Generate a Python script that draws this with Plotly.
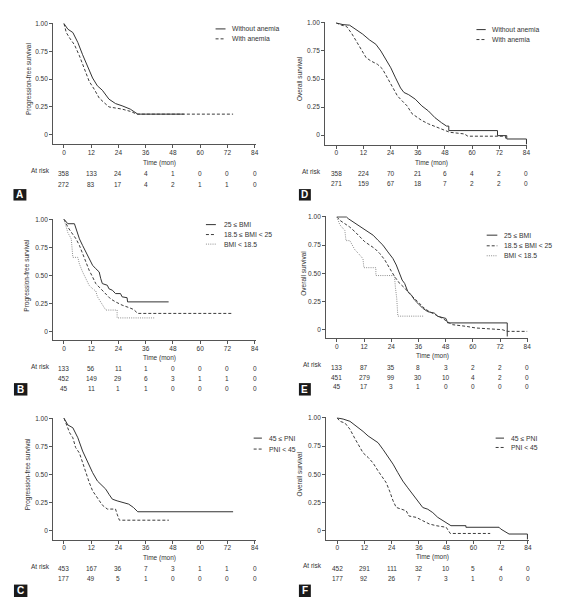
import plotly.graph_objects as go

W, H = 563, 599
OFF = 8  # page body margin in the browser

# ---------------- data ----------------
month_ticks = [0, 12, 24, 36, 48, 60, 72, 84]
y_ticks = [0, 0.25, 0.5, 0.75, 1.0]
y_tick_text = ["0", "0.25", "0.50", "0.75", "1.00"]

# A: PFS by anemia
A_without_t = [0, 1.7, 3.9, 6.1, 8.2, 10.4, 12.6, 14.7, 16.9, 19.8, 22.7, 25.6, 29.2, 32.5, 52.8]
A_without_s = [1.0, 0.95, 0.92, 0.83, 0.72, 0.62, 0.51, 0.44, 0.40, 0.32, 0.28, 0.26, 0.23, 0.185, 0.185]
A_with_t = [0, 1.0, 2.5, 4.6, 6.8, 9.0, 11.1, 13.3, 15.5, 17.6, 19.8, 22.7, 25.6, 29.2, 32.1, 74.5]
A_with_s = [1.0, 0.92, 0.87, 0.81, 0.71, 0.59, 0.48, 0.41, 0.33, 0.29, 0.25, 0.24, 0.23, 0.21, 0.185, 0.185]
A_risk_without = [358, 133, 24, 4, 1, 0, 0, 0]
A_risk_with = [272, 83, 17, 4, 2, 1, 1, 0]

# D: OS by anemia
D_without_t = [0, 3.0, 5.9, 8.8, 11.7, 14.6, 17.5, 19.7, 21.9, 24.1, 26.2, 28.4, 29.9, 32.0, 34.9, 37.8,
               40.7, 43.6, 46.5, 48.7, 49.7, 49.7, 71.2, 71.2, 75.3, 75.3, 84.0, 84.0]
D_without_s = [1.0, 0.985, 0.98, 0.94, 0.90, 0.85, 0.81, 0.75, 0.675, 0.60, 0.51, 0.42, 0.38, 0.36, 0.32, 0.26,
               0.215, 0.155, 0.11, 0.08, 0.08, 0.04, 0.04, -0.005, -0.005, -0.035, -0.035, -0.085]
D_with_t = [0, 2.3, 4.5, 6.7, 8.8, 11.0, 13.2, 15.4, 18.3, 20.4, 22.6, 24.8, 27.0, 29.1, 31.3, 33.5, 35.7,
            37.8, 40.7, 44.3, 48.0, 50.1, 56.6, 58.1, 74.8, 74.8, 75.4]
D_with_s = [1.0, 0.98, 0.97, 0.91, 0.84, 0.76, 0.69, 0.66, 0.63, 0.59, 0.51, 0.42, 0.35, 0.305, 0.26, 0.19, 0.16,
            0.13, 0.10, 0.07, 0.045, 0.025, 0.01, -0.01, -0.01, -0.03, -0.03]
D_risk_without = [358, 224, 70, 21, 6, 4, 2, 0]
D_risk_with = [271, 159, 67, 18, 7, 2, 2, 0]

# B: PFS by BMI
B_high_t = [0, 1.7, 4.6, 5.3, 6.8, 8.2, 9.7, 11.1, 12.6, 14.0, 15.5, 16.2, 16.9, 19.1, 19.8, 21.3, 22.7,
            24.9, 25.6, 27.8, 28.0, 46.1]
B_high_s = [1.0, 0.96, 0.96, 0.914, 0.825, 0.766, 0.707, 0.648, 0.589, 0.559, 0.53, 0.47, 0.426, 0.411, 0.38,
            0.367, 0.337, 0.337, 0.308, 0.30, 0.263, 0.263]
B_mid_t = [0, 1.7, 3.2, 5.3, 6.8, 8.2, 9.7, 11.1, 12.6, 14.0, 16.2, 18.4, 20.5, 22.7, 25.6, 28.5, 30.7, 32.5, 74.5]
B_mid_s = [1.0, 0.93, 0.885, 0.825, 0.766, 0.69, 0.62, 0.544, 0.485, 0.426, 0.38, 0.337, 0.29, 0.263, 0.234,
           0.213, 0.195, 0.16, 0.16]
B_low_t = [0, 1.7, 3.2, 3.9, 6.1, 6.8, 8.2, 9.7, 11.1, 12.6, 14.0, 14.7, 16.2, 16.9, 18.4, 23.4, 23.4, 39.8]
B_low_s = [1.0, 0.88, 0.825, 0.66, 0.66, 0.60, 0.53, 0.46, 0.41, 0.38, 0.36, 0.31, 0.26, 0.23, 0.19, 0.19, 0.12, 0.12]
B_risk_high = [133, 56, 11, 1, 0, 0, 0, 0]
B_risk_mid = [452, 149, 29, 6, 3, 1, 1, 0]
B_risk_low = [45, 11, 1, 1, 0, 0, 0, 0]

# E: OS by BMI
E_high_t = [0, 4.2, 5.0, 7.2, 9.4, 11.6, 13.8, 16.0, 18.1, 20.3, 22.5, 24.7, 26.2, 27.7, 28.8, 29.9, 31.3, 32.8,
            34.2, 35.7, 37.9, 40.1, 43.0, 44.5, 48.1, 48.9, 75.2, 75.2]
E_high_s = [1.0, 1.0, 0.985, 0.956, 0.926, 0.897, 0.868, 0.838, 0.794, 0.75, 0.69, 0.632, 0.574, 0.50, 0.44,
            0.41, 0.338, 0.31, 0.265, 0.235, 0.19, 0.16, 0.147, 0.118, 0.10, 0.06, 0.06, -0.06]
E_mid_t = [0, 1.3, 3.5, 5.7, 7.9, 10.1, 12.3, 14.5, 16.7, 18.9, 21.1, 23.3, 25.5, 27.7, 29.9, 32.0, 34.2, 36.4,
           38.6, 40.8, 43.8, 46.7, 49.6, 51.1, 56.9, 61.3, 73.0, 75.2, 84.0]
E_mid_s = [1.0, 0.97, 0.94, 0.91, 0.87, 0.82, 0.78, 0.75, 0.72, 0.676, 0.62, 0.544, 0.47, 0.41, 0.37, 0.32, 0.28,
           0.235, 0.19, 0.16, 0.13, 0.10, 0.06, 0.044, 0.03, 0.015, 0.0, -0.015, -0.015]
E_low_t = [0, 1.3, 3.5, 4.0, 5.7, 7.9, 9.3, 11.5, 11.9, 17.2, 17.2, 25.4, 25.8, 26.4, 26.9, 38.5]
E_low_s = [1.0, 0.93, 0.88, 0.79, 0.79, 0.71, 0.68, 0.63, 0.55, 0.55, 0.48, 0.48, 0.38, 0.28, 0.12, 0.12]
E_risk_high = [133, 87, 35, 8, 3, 2, 2, 0]
E_risk_mid = [451, 279, 99, 30, 10, 4, 2, 0]
E_risk_low = [45, 17, 3, 1, 0, 0, 0, 0]

# C: PFS by PNI
C_high_t = [0, 1.7, 3.9, 6.1, 8.2, 10.4, 12.6, 14.7, 16.9, 18.4, 19.8, 21.3, 23.4, 25.6, 28.5, 30.6, 32.5, 74.5]
C_high_s = [1.0, 0.94, 0.915, 0.826, 0.708, 0.605, 0.516, 0.442, 0.398, 0.369, 0.324, 0.28, 0.265, 0.25, 0.236,
            0.206, 0.168, 0.168]
C_low_t = [0, 1.3, 2.5, 3.9, 5.1, 6.8, 8.2, 9.7, 11.1, 12.6, 14.0, 15.5, 16.9, 19.1, 22.7, 23.4, 24.4, 46.2]
C_low_s = [1.0, 0.93, 0.87, 0.826, 0.74, 0.69, 0.605, 0.50, 0.43, 0.354, 0.31, 0.265, 0.227, 0.192, 0.192, 0.147,
           0.093, 0.093]
C_risk_high = [453, 167, 36, 7, 3, 1, 1, 0]
C_risk_low = [177, 49, 5, 1, 0, 0, 0, 0]

# F: OS by PNI
F_high_t = [0, 2.6, 5.6, 8.5, 11.4, 13.6, 15.8, 18.0, 20.2, 22.4, 24.6, 26.7, 28.9, 31.1, 33.3, 35.5, 37.7, 39.9,
            42.1, 44.3, 46.5, 48.7, 50.1, 56.7, 56.7, 71.3, 72.0, 75.7, 83.8, 83.8]
F_high_s = [1.0, 0.99, 0.97, 0.926, 0.88, 0.84, 0.81, 0.78, 0.72, 0.66, 0.59, 0.515, 0.44, 0.38, 0.32, 0.265,
            0.205, 0.19, 0.16, 0.118, 0.088, 0.059, 0.044, 0.044, 0.03, 0.03, 0.015, -0.03, -0.03, -0.08]
F_low_t = [0, 1.2, 3.4, 5.6, 7.7, 9.9, 11.4, 13.6, 15.8, 18.0, 20.2, 21.6, 23.1, 24.6, 26.0, 28.2, 30.4, 31.6,
           34.8, 37.7, 40.6, 43.6, 48.0, 49.8, 67.4]
F_low_s = [1.0, 0.97, 0.955, 0.90, 0.82, 0.75, 0.69, 0.65, 0.60, 0.53, 0.47, 0.425, 0.35, 0.265, 0.206, 0.19,
           0.176, 0.13, 0.118, 0.088, 0.059, 0.044, 0.03, -0.025, -0.025]
F_risk_high = [452, 291, 111, 32, 10, 5, 4, 0]
F_risk_low = [177, 92, 26, 7, 3, 1, 0, 0]

anemia_names = ["Without anemia", "With anemia"]
bmi_names = ["25 \u2264 BMI", "18.5 \u2264 BMI < 25", "BMI < 18.5"]
pni_names = ["45 \u2264 PNI", "PNI < 45"]

# ---------------- styles ----------------
FONT = "Liberation Sans Narrow, Arial Narrow, Liberation Sans, Arial, sans-serif"
FS = 6.5
FS_LEG = 6.8
TXT = "#333333"
AX = "#555555"
STY = {
    "solid": dict(color="#333333", width=1.0, dash="solid"),
    "dash": dict(color="#3c3c3c", width=1.0, dash="3px,2px"),
    "dot": dict(color="#8e8e8e", width=1.0, dash="1px,1.2px"),
}

panels = [
    dict(letter="A", ytitle="Progression-free survival",
         series=[(A_without_t, A_without_s, "solid"), (A_with_t, A_with_s, "dash")],
         names=anemia_names, risk=[A_risk_without, A_risk_with],
         geo=dict(yax=53.3, x0=64.3, x84=256.0, y1=20.7, y0=132.3, xax=141.7, ytx=29, timey=160.3,
                  rl=(52, 168.3), rows=[171, 182], leg=(216.7, 226.7, 231, [26, 36]),
                  badge=(13.5, 187, 26.5, 198.5))),
    dict(letter="D", ytitle="Overall survival",
         series=[(D_without_t, D_without_s, "solid"), (D_with_t, D_with_s, "dash")],
         names=anemia_names, risk=[D_risk_without, D_risk_with],
         geo=dict(yax=326.7, x0=338.0, x84=529.3, y1=20.0, y0=132.7, xax=142.3, ytx=300.7, timey=161,
                  rl=(325, 169), rows=[171.7, 181.7], leg=(479, 488.3, 492.3, [26.7, 36.7]),
                  badge=(300.5, 187, 312.5, 198.5))),
    dict(letter="B", ytitle="Progression-free survival",
         series=[(B_high_t, B_high_s, "solid"), (B_mid_t, B_mid_s, "dash"), (B_low_t, B_low_s, "dot")],
         names=bmi_names, risk=[B_risk_high, B_risk_mid, B_risk_low],
         geo=dict(yax=53.3, x0=64.3, x84=256.0, y1=217.3, y0=330.0, xax=339.0, ytx=27.5, timey=356.7,
                  rl=(52, 365), rows=[367.3, 377.3, 387], leg=(207, 217, 222.7, [222.7, 232.7, 242.3]),
                  badge=(14, 382, 27.5, 394.5))),
    dict(letter="E", ytitle="Overall survival",
         series=[(E_high_t, E_high_s, "solid"), (E_mid_t, E_mid_s, "dash"), (E_low_t, E_low_s, "dot")],
         names=bmi_names, risk=[E_risk_high, E_risk_mid, E_risk_low],
         geo=dict(yax=327.7, x0=338.7, x84=530.0, y1=215.0, y0=328.3, xax=336.7, ytx=305, timey=355,
                  rl=(325.5, 363.5), rows=[366, 376.3, 385.5], leg=(489.3, 500, 505, [233.3, 244, 254]),
                  badge=(300.5, 382, 312.5, 394.5))),
    dict(letter="C", ytitle="Progression-free survival",
         series=[(C_high_t, C_high_s, "solid"), (C_low_t, C_low_s, "dash")],
         names=pni_names, risk=[C_risk_high, C_risk_low],
         geo=dict(yax=53.3, x0=64.3, x84=256.0, y1=417.3, y0=530.3, xax=539.3, ytx=29, timey=557.7,
                  rl=(52, 566.7), rows=[568.3, 578.3], leg=(255, 263.3, 268.3, [437.3, 448.3]),
                  badge=(14, 584.5, 27.5, 597))),
    dict(letter="F", ytitle="Overall survival",
         series=[(F_high_t, F_high_s, "solid"), (F_low_t, F_low_s, "dash")],
         names=pni_names, risk=[F_risk_high, F_risk_low],
         geo=dict(yax=327.7, x0=339.0, x84=530.7, y1=417.0, y0=530.3, xax=539.3, ytx=300.7, timey=556.7,
                  rl=(325.7, 565.7), rows=[568.3, 578.7], leg=(498.3, 506.7, 511.7, [437.3, 446.7]),
                  badge=(300.5, 584.5, 312.5, 597))),
]

FW, FH = W - OFF, H - OFF


def fx(px):
    return (px - OFF) / FW


def fy(py):
    return 1 - (py - OFF) / FH


fig = go.Figure()
layout = dict(width=FW, height=FH, autosize=False, margin=dict(l=0, r=0, t=0, b=0),
              paper_bgcolor="white", plot_bgcolor="white", showlegend=False,
              font=dict(family=FONT, size=FS, color=TXT))
annotations = []
shapes = []

for i, p in enumerate(panels, start=1):
    g = p["geo"]
    xa, ya = f"x{i}", f"y{i}"
    ppm = (g["x84"] - g["x0"]) / 84.0
    ppu = g["y0"] - g["y1"]
    xr = [(g["yax"] - g["x0"]) / ppm, 84 + 1.0 / ppm]
    yr = [-(g["xax"] - g["y0"]) / ppu, 1 + 0.6 / ppu]
    layout[f"xaxis{i}"] = dict(domain=[fx(g["yax"]), fx(g["x84"] + 1)], range=xr, anchor=ya,
                               tickvals=month_ticks, ticks="outside", ticklen=3, tickwidth=0.8,
                               tickcolor=AX, showline=True, linecolor=AX, linewidth=0.8,
                               showgrid=False, zeroline=False, fixedrange=True, ticklabelstandoff=-1,
                               tickfont=dict(size=FS, color=TXT, family=FONT))
    layout[f"yaxis{i}"] = dict(domain=[fy(g["xax"]), fy(g["y1"] - 0.6)], range=yr, anchor=xa,
                               tickvals=y_ticks, ticktext=y_tick_text, ticks="outside", ticklen=3,
                               tickwidth=0.8, tickcolor=AX, showline=True, linecolor=AX, linewidth=0.8,
                               showgrid=False, zeroline=False, fixedrange=True,
                               tickfont=dict(size=FS, color=TXT, family=FONT))
    for (t, s, st), name in zip(p["series"], p["names"]):
        fig.add_trace(go.Scatter(x=t, y=s, mode="lines", name=name, line=STY[st],
                                 xaxis=xa, yaxis=ya, hoverinfo="skip"))
    # y title
    annotations.append(dict(text=p["ytitle"], x=fx(g["ytx"]), xref="paper", y=0.5, yref=ya,
                            textangle=-90, showarrow=False, xanchor="center", yanchor="middle",
                            font=dict(size=FS, color=TXT, family=FONT)))
    # x title
    annotations.append(dict(text="Time (mon)", x=42, xref=xa, y=fy(g["timey"]), yref="paper",
                            showarrow=False, xanchor="center", yanchor="middle",
                            font=dict(size=FS, color=TXT, family=FONT)))
    # at risk
    annotations.append(dict(text="At risk", x=fx(g["rl"][0]), xref="paper", y=fy(g["rl"][1]),
                            yref="paper", showarrow=False, xanchor="right", yanchor="middle",
                            font=dict(size=FS, color=TXT, family=FONT)))
    for row, ry in zip(p["risk"], g["rows"]):
        for m, n in zip(month_ticks, row):
            annotations.append(dict(text=str(n), x=m, xref=xa, y=fy(ry), yref="paper",
                                    showarrow=False, xanchor="center", yanchor="middle",
                                    font=dict(size=FS, color=TXT, family=FONT)))
    # legend
    lx0, lx1, tx, rows = g["leg"]
    for (t, s, st), name, ry in zip(p["series"], p["names"], rows):
        ls = STY[st]
        shapes.append(dict(type="line", xref="paper", yref="paper", x0=fx(lx0), x1=fx(lx1),
                           y0=fy(ry), y1=fy(ry), line=dict(color=ls["color"], width=1, dash=ls["dash"])))
        annotations.append(dict(text=name, x=fx(tx), xref="paper", y=fy(ry), yref="paper",
                                showarrow=False, xanchor="left", yanchor="middle",
                                font=dict(size=FS_LEG, color=TXT, family=FONT)))
    # panel badge
    bx0, by0, bx1, by1 = g["badge"]
    shapes.append(dict(type="rect", xref="paper", yref="paper", x0=fx(bx0), x1=fx(bx1),
                       y0=fy(by1), y1=fy(by0), fillcolor="#1a1a1a", line=dict(width=0)))
    annotations.append(dict(text="<b>%s</b>" % p["letter"], x=fx((bx0 + bx1) / 2), xref="paper",
                            y=fy((by0 + by1) / 2), yref="paper", showarrow=False,
                            xanchor="center", yanchor="middle",
                            font=dict(size=10, color="white", family="Liberation Sans, Arial, sans-serif")))

layout["annotations"] = annotations
layout["shapes"] = shapes
fig.update_layout(**layout)
fig.write_html("out.html")
